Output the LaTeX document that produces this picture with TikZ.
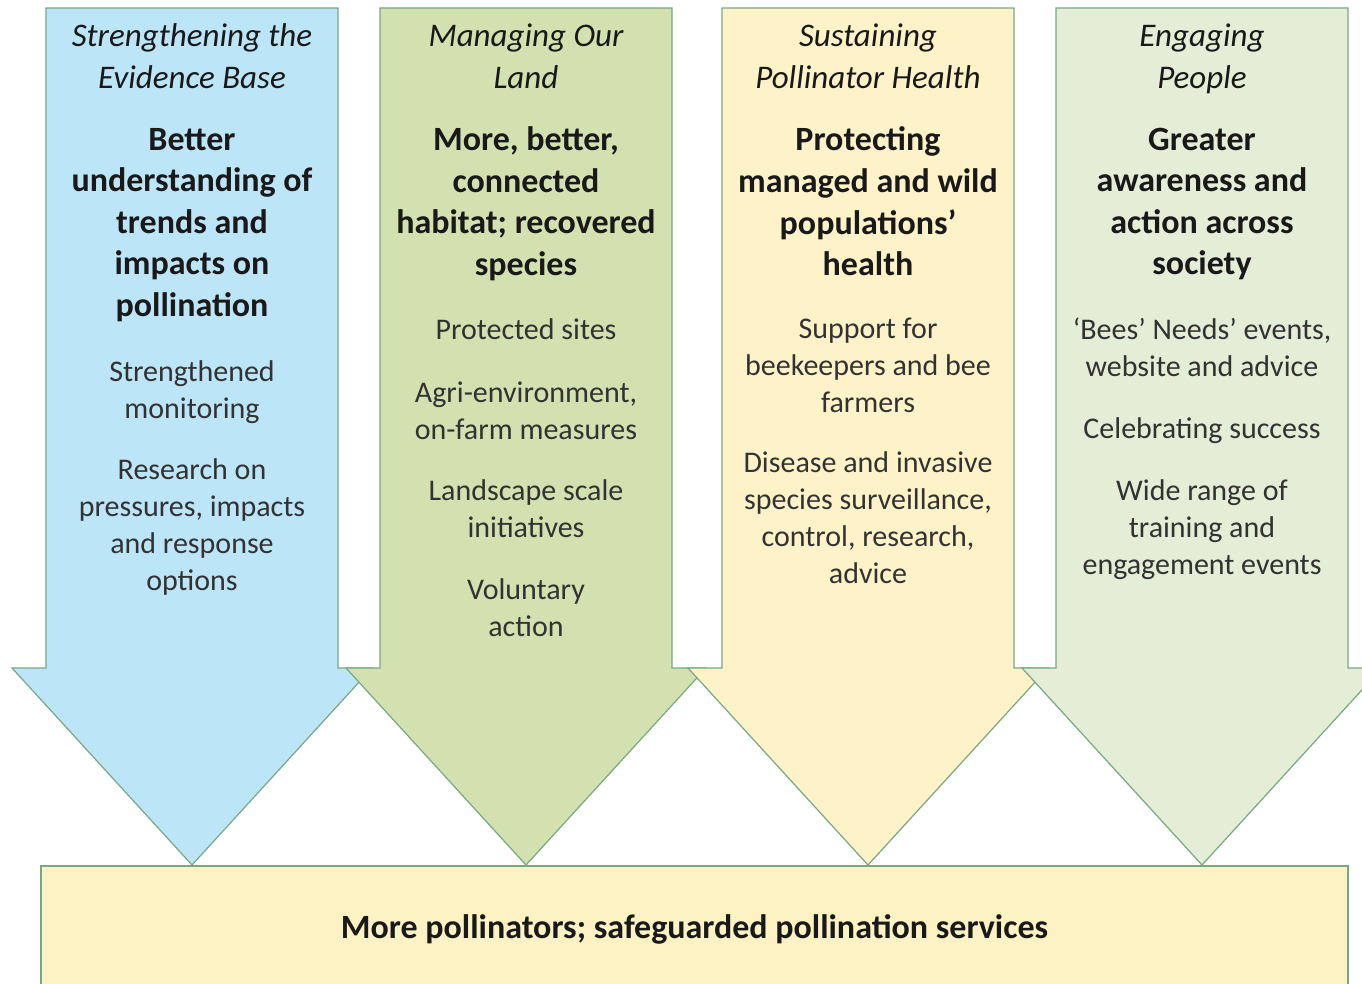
\documentclass[tikz,border=0pt]{standalone}
\usepackage{fontspec}
\setmainfont{Carlito}
\definecolor{edge}{RGB}{120,168,130}
\definecolor{cblue}{RGB}{189,229,248}
\definecolor{cgreen}{RGB}{210,225,175}
\definecolor{cyellow}{RGB}{254,243,200}
\definecolor{cpale}{RGB}{228,237,214}
\definecolor{cbox}{RGB}{253,242,196}
\definecolor{txt}{RGB}{25,25,25}
\definecolor{btxt}{RGB}{50,50,50}
\begin{document}
\begin{tikzpicture}[x=0.5pt,y=-0.5pt,
 arrowshape/.style={draw=edge, line width=0.6pt, line join=miter},
 struts/.style={execute at begin node=\strut, execute at end node=\strut},
 ttl/.style={struts, font=\fontsize{16.5}{21}\selectfont\itshape, align=center, text=txt, inner sep=0pt},
 hd/.style={struts, font=\fontsize{17}{20.8}\selectfont\bfseries, align=center, text=txt, inner sep=0pt},
 bd/.style={struts, font=\fontsize{15}{18.5}\selectfont, align=center, text=btxt, inner sep=0pt}]
\useasboundingbox (0,0) rectangle (1362,984);
\clip (0,0) rectangle (1362,984);
\fill[white] (0,0) rectangle (1362,984);
\foreach \cx/\col in {192/cblue,526/cgreen,868/cyellow,1202/cpale}{
 \filldraw[arrowshape, fill=\col] (\cx-146,8) -- (\cx+146,8) -- (\cx+146,668) -- (\cx+180,668) -- (\cx,865) -- (\cx-180,668) -- (\cx-146,668) -- cycle;
}
\filldraw[arrowshape, fill=cbox] (41,866) rectangle (1348,995);
% column 1
\node[ttl] (t1) at (192,62.5) {Strengthening the\\Evidence Base};
\node[hd] (h1) at (192,228.5) {Better\\understanding of\\trends and\\impacts on\\pollination};
\node[bd] (a1) at (192,395.5) {Strengthened\\monitoring};
\node[bd] (b1) at (192,530.5) {Research on\\pressures, impacts\\and response\\options};
% column 2
\node[ttl] (t2) at (526,62.5) {Managing Our\\Land};
\node[hd] (h2) at (526,207.5) {More, better,\\connected\\habitat; recovered\\species};
\node[bd] (a2) at (526,332.5) {Protected sites};
\node[bd] (b2) at (526,416) {Agri-environment,\\on-farm measures};
\node[bd] (c2) at (526,514) {Landscape scale\\initiatives};
\node[bd] (d2) at (526,613.5) {Voluntary\\action};
% column 3
\node[ttl] (t3) at (868,62.5) {Sustaining\\Pollinator Health};
\node[hd] (h3) at (868,207.5) {Protecting\\managed and wild\\populations’\\health};
\node[bd] (a3) at (868,370.5) {Support for\\beekeepers and bee\\farmers};
\node[bd] (b3) at (868,523.5) {Disease and invasive\\species surveillance,\\control, research,\\advice};
% column 4
\node[ttl] (t4) at (1202,62.5) {Engaging\\People};
\node[hd] (h4) at (1202,207.5) {Greater\\awareness and\\action across\\society};
\node[bd] (a4) at (1202,353) {‘Bees’ Needs’ events,\\website and advice};
\node[bd] (b4) at (1202,431.5) {Celebrating success};
\node[bd] (c4) at (1202,533) {Wide range of\\training and\\engagement events};
% bottom
\node[hd] (res) at (694.5,930) {More pollinators; safeguarded pollination services};
\end{tikzpicture}
\end{document}
